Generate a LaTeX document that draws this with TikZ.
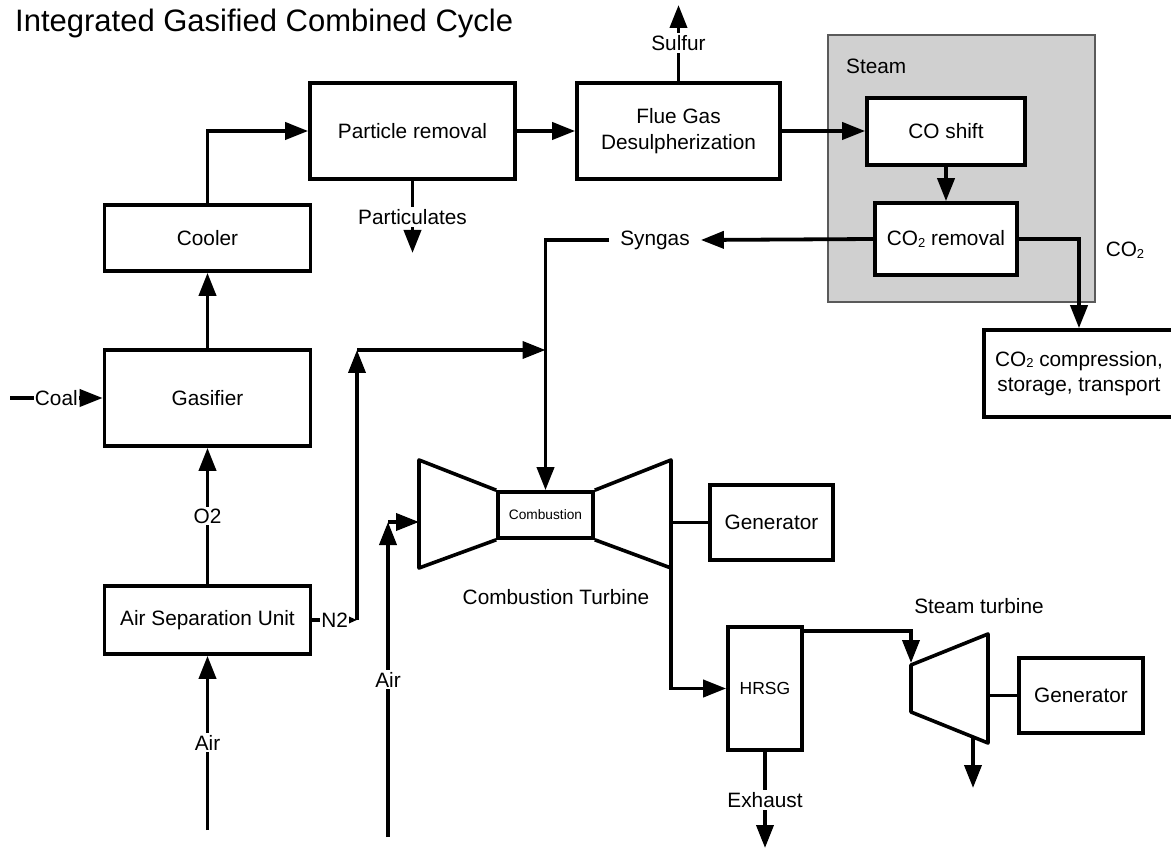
\documentclass[tikz,border=0pt]{standalone}
\usepackage{fontspec}
\setmainfont{Liberation Sans}
\usetikzlibrary{arrows.meta}
\usetikzlibrary{positioning}
\definecolor{shiftgray}{RGB}{208,208,208}
\definecolor{shiftedge}{RGB}{90,90,90}
\newcommand{\COtwo}{CO\raisebox{-0.15ex}{\fontsize{13}{13}\selectfont 2}}

\begin{document}
\begin{tikzpicture}[x=1pt,y=-1pt,
  txt/.style={font=\fontsize{20.8}{25.5}\selectfont},
  unit/.style={draw,line width=3.6pt,fill=white,align=center,inner sep=0pt,txt},
  flow/.style={line width=3.8pt,-{Triangle[length=23pt,width=17pt]}},
  lbl/.style={fill=white,inner sep=2pt,txt},
  shaft/.style={line width=3.8pt}]
\useasboundingbox (0,0) rectangle (1171,850);
\node[anchor=base west,font=\fontsize{31}{36}\selectfont,inner sep=0pt] (title) at (15,32) {Integrated Gasified Combined Cycle};

% shift / capture block
\draw[fill=shiftgray,draw=shiftedge,line width=1.2pt] (828,35) rectangle (1095,302);
\node[txt,anchor=west,inner sep=0pt] (steamlbl) at (846,66) {Steam};

% units
\node[unit,minimum width=206pt,minimum height=66pt] (cooler) at (207.5,238) {Cooler};
\node[unit,minimum width=206pt,minimum height=96pt] (gasifier) at (207.5,398) {Gasifier};
\node[unit,minimum width=206pt,minimum height=68pt] (asu) at (207.5,620) {Air Separation Unit};
\node[unit,minimum width=205pt,minimum height=96pt] (partrem) at (412.5,131) {Particle removal};
\node[unit,minimum width=203pt,minimum height=96pt] (fgd) at (678.5,131) {Flue Gas\\Desulpherization};
\node[unit,minimum width=158pt,minimum height=67pt] (coshift) at (946,131.5) {CO shift};
\node[unit,minimum width=142pt,minimum height=72pt] (co2rem) at (946,239) {\COtwo{} removal};
\node[unit,minimum width=190pt,minimum height=87pt] (co2comp) at (1079,373.5) {\COtwo{} compression,\\storage, transport};
\node[unit,minimum width=95pt,minimum height=46pt,font=\fontsize{13.7}{16}\selectfont] (comb) at (545.5,515) {Combustion};
\node[unit,minimum width=123pt,minimum height=75pt] (gen1) at (771.5,522.5) {Generator};
\node[unit,minimum width=124pt,minimum height=75pt] (gen2) at (1081,695.5) {Generator};
\node[unit,minimum width=74pt,minimum height=123pt,font=\fontsize{17.5}{20}\selectfont] (hrsg) at (765,688.5) {HRSG};

% compressor, turbine, steam turbine
\draw[line width=3.6pt,line join=round] (comb.north west) -- (419,460) -- (419,568) -- (comb.south west);
\draw[line width=3.6pt,line join=round] (comb.north east) -- (671,460) -- (671,568) -- (comb.south east);
\draw[line width=3.6pt,line join=round] (911,665) -- (988,634) -- (988,743) -- (911,712) -- cycle;

% free ends
\coordinate (coalin) at (10,398);
\coordinate (air1in) at (207.5,830);
\coordinate (air2in) at (388,837);
\coordinate (air2turn) at (388,522);
\coordinate (compin) at (419,522);
\coordinate (n2turn) at (357,620);
\coordinate (n2top) at (357,350);
\coordinate (synjoin) at (545.5,350);
\coordinate (sulfout) at (678.5,5);
\coordinate (partout) at (412.5,253);
\coordinate (turbout) at (671,568);
\coordinate (turbshaft) at (671,522.5);
\coordinate (stin) at (911,663);
\coordinate (stshaft) at (988,695.5);
\coordinate (stexh) at (973,737);
\coordinate (stout) at (973,788);
\coordinate (exhout) at (765,848);

% gasification line
\draw[flow] (coalin) -- (gasifier.west) node[midway,lbl,inner sep=1pt] {Coal};
\draw[flow] (air1in) -- (asu.south) node[midway,lbl] {Air};
\draw[flow] (asu.north) -- (gasifier.south) node[midway,lbl] {O2};
\draw[flow] (gasifier.north) -- (cooler.south);
\draw[flow] (cooler.north) |- (partrem.west);
\draw[flow] (partrem.south) -- (partout) node[midway,lbl] {Particulates};
\draw[flow] (partrem.east) -- (fgd.west);
\draw[flow] (fgd.north) -- (sulfout) node[midway,lbl] {Sulfur};
\draw[flow] (fgd.east) -- (fgd.east -| coshift.west);
\draw[flow] (coshift.south) -- (co2rem.north);
\draw[flow] (co2rem.east) -| (co2comp.north);
\node[txt,inner sep=0pt] (co2lbl) at (1125,250) {\COtwo};

% syngas and nitrogen to the combustor
\node[txt,inner xsep=11pt,inner ysep=0pt] (syngas) at (655,240) {Syngas};
\draw[flow] (co2rem.west) -- (syngas.east);
\draw[flow] (syngas.west) -| (comb.north);
\draw[line width=3.8pt,-{Triangle[length=10pt,width=8pt]}] (asu.east) -- (n2turn) node[midway,lbl,inner sep=1pt] {N2};
\draw[flow] (n2turn) -- (n2top);
\draw[flow] (n2top) -- (synjoin);
\draw[flow] (air2in) -- (air2turn) node[midway,lbl] {Air};
\draw[flow] (air2turn) -- (compin);
\node[txt] (ctlbl) at (556,597) {Combustion Turbine};

% power block
\draw[shaft] (turbshaft) -- (gen1.west);
\draw[flow] (turbout) |- (hrsg.west);
\draw[flow] (hrsg.south) -- (exhout) node[midway,lbl] {Exhaust};
\draw[flow] ([yshift=-6pt]hrsg.north east) -| (stin);
\draw[shaft] (stshaft) -- (gen2.west);
\draw[flow] (stexh) -- (stout);
\node[txt] (stlbl) at (979,606) {Steam turbine};

\end{tikzpicture}
\end{document}
